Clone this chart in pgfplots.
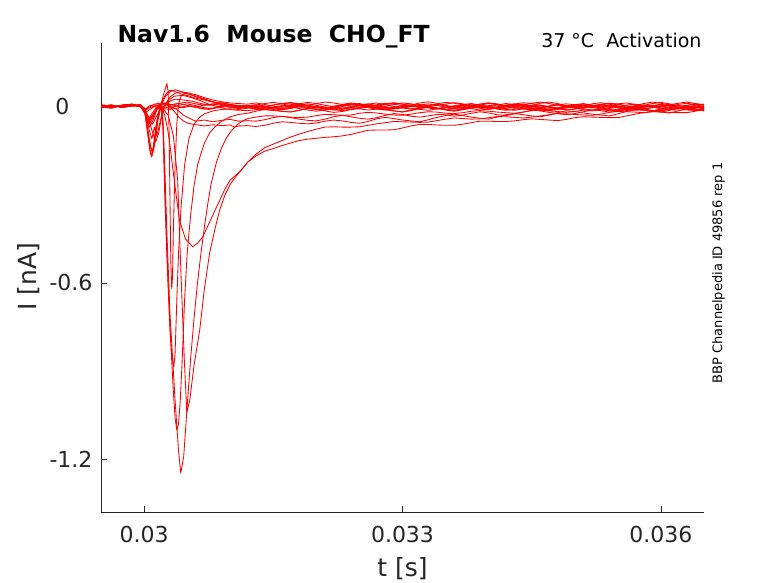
\documentclass[border=0pt]{standalone}
\usepackage{fontspec}
\setmainfont{DejaVu Sans}
\usepackage{pgfplots}
\usepackage{pgfplotstable}
\pgfplotsset{compat=1.18}
\definecolor{axgray}{rgb}{0.15,0.15,0.15}
\tikzset{tr/.style={color=red, line width=0.85bp, line join=round, mark=none}}
\pgfplotstableread{
t b1 b2 b3 b4 b5 h1 h2 h3 h4 h5 pa pb pd pe s1 s2 pc pf
0.0312 0.003 0.001 -0.004 -0.004 -0.002 -0.001 -0.001 0.008 -0.014 0.003 -0.041 -0.023 -0.006 -0.001 -0.065 -0.048 -0.190 -0.190
0.0313 0.006 0.005 -0.008 -0.008 0.002 -0.004 -0.006 0.012 -0.011 -0.005 -0.036 -0.016 0.000 0.003 -0.068 -0.050 -0.162 -0.168
0.0314 0.002 0.010 -0.011 -0.002 -0.003 0.000 -0.010 0.007 -0.006 -0.009 -0.032 -0.010 -0.002 0.000 -0.064 -0.045 -0.140 -0.152
0.0315 -0.004 0.014 -0.006 0.005 -0.010 0.005 -0.014 0.001 -0.002 -0.004 -0.032 -0.013 -0.007 -0.004 -0.057 -0.038 -0.128 -0.143
0.0316 -0.008 0.009 0.001 0.010 -0.016 0.009 -0.008 -0.003 0.003 0.002 -0.034 -0.017 -0.011 -0.008 -0.052 -0.033 -0.116 -0.133
0.0317 -0.003 0.003 0.004 0.014 -0.019 0.012 -0.001 0.002 -0.001 0.006 -0.036 -0.018 -0.007 -0.005 -0.054 -0.038 -0.104 -0.124
0.0318 0.005 -0.001 -0.001 0.008 -0.013 0.007 0.004 0.009 -0.007 0.010 -0.038 -0.013 -0.001 0.000 -0.057 -0.043 -0.094 -0.116
0.0319 0.009 0.004 -0.005 0.002 -0.006 0.002 0.001 0.014 -0.012 0.004 -0.036 -0.007 -0.003 0.003 -0.059 -0.047 -0.085 -0.111
0.0320 0.004 0.010 -0.010 -0.003 -0.002 -0.002 -0.004 0.010 -0.016 -0.003 -0.031 -0.009 -0.009 0.000 -0.056 -0.049 -0.077 -0.108
0.0321 -0.002 0.015 -0.007 -0.007 -0.005 -0.005 -0.007 0.004 -0.011 -0.008 -0.027 -0.015 -0.013 -0.002 -0.050 -0.043 -0.070 -0.105
0.0322 -0.006 0.012 -0.002 -0.001 -0.011 0.001 -0.002 0.000 -0.005 -0.012 -0.028 -0.020 -0.007 -0.006 -0.046 -0.035 -0.069 -0.103
0.0323 -0.010 0.007 0.003 0.006 -0.014 0.007 0.004 0.003 -0.001 -0.006 -0.030 -0.017 0.000 -0.009 -0.049 -0.030 -0.070 -0.100
0.0324 -0.004 0.002 0.007 0.009 -0.009 0.012 0.009 0.008 -0.004 0.000 -0.029 -0.011 0.007 -0.004 -0.054 -0.035 -0.070 -0.095
0.0325 0.003 -0.003 0.002 0.004 -0.003 0.008 0.006 0.006 -0.008 0.005 -0.023 -0.007 0.010 0.003 -0.057 -0.040 -0.069 -0.088
0.0326 0.008 0.000 -0.004 -0.001 0.001 0.003 0.000 0.000 -0.012 0.009 -0.020 -0.001 0.004 0.006 -0.051 -0.043 -0.064 -0.081
0.0327 0.012 0.006 -0.009 -0.005 -0.004 0.001 -0.005 0.004 -0.009 0.003 -0.022 -0.005 -0.002 0.001 -0.042 -0.038 -0.059 -0.080
0.0328 0.006 0.011 -0.012 0.000 -0.010 0.006 -0.009 0.009 -0.004 -0.004 -0.026 -0.011 -0.006 -0.003 -0.037 -0.030 -0.055 -0.080
0.0329 0.000 0.008 -0.008 0.007 -0.015 0.011 -0.006 0.013 -0.001 -0.007 -0.029 -0.015 -0.003 -0.008 -0.041 -0.024 -0.051 -0.079
0.0330 -0.005 0.003 -0.003 0.012 -0.018 0.008 0.000 0.008 -0.004 -0.002 -0.030 -0.019 0.003 -0.005 -0.046 -0.027 -0.052 -0.073
0.0331 -0.009 0.005 0.001 0.009 -0.012 0.002 0.004 0.002 -0.006 0.003 -0.026 -0.014 0.006 0.000 -0.049 -0.033 -0.053 -0.066
0.0332 -0.003 0.012 0.004 0.003 -0.005 -0.004 0.001 -0.002 -0.010 0.007 -0.021 -0.007 0.001 0.005 -0.052 -0.036 -0.054 -0.061
0.0333 0.004 0.016 -0.001 -0.002 -0.001 -0.001 -0.003 0.003 -0.013 0.002 -0.018 -0.003 -0.005 0.009 -0.045 -0.032 -0.053 -0.061
0.0334 0.007 0.011 -0.006 -0.006 -0.006 0.004 -0.006 0.009 -0.008 -0.005 -0.019 -0.006 -0.009 0.004 -0.037 -0.027 -0.048 -0.063
0.0335 0.002 0.004 -0.010 -0.010 -0.012 0.008 -0.004 0.014 -0.001 -0.010 -0.023 -0.010 -0.004 -0.002 -0.031 -0.028 -0.043 -0.064
0.0336 -0.003 -0.002 -0.013 -0.004 -0.016 0.013 0.001 0.011 0.002 -0.007 -0.024 -0.013 0.002 -0.007 -0.026 -0.033 -0.039 -0.064
0.0337 -0.007 -0.005 -0.007 0.003 -0.011 0.009 0.004 0.006 -0.003 -0.001 -0.021 -0.010 0.007 -0.010 -0.031 -0.029 -0.041 -0.060
0.0338 -0.002 0.001 -0.001 0.008 -0.004 0.003 0.000 0.001 -0.007 0.004 -0.016 -0.005 0.010 -0.006 -0.036 -0.023 -0.043 -0.055
0.0339 0.005 0.008 0.004 0.005 0.001 -0.002 -0.006 -0.004 -0.012 0.008 -0.014 -0.002 0.004 -0.001 -0.040 -0.018 -0.042 -0.050
0.0340 0.010 0.012 0.000 0.000 -0.003 -0.006 -0.010 -0.001 -0.009 0.012 -0.016 -0.005 -0.003 0.003 -0.043 -0.022 -0.038 -0.050
0.0341 0.007 0.009 -0.005 -0.003 -0.009 -0.001 -0.005 0.005 -0.004 0.006 -0.019 -0.006 -0.007 0.006 -0.036 -0.028 -0.034 -0.051
0.0342 0.001 0.003 -0.007 0.002 -0.013 0.005 0.003 0.010 0.001 -0.001 -0.021 -0.010 -0.002 0.001 -0.028 -0.031 -0.035 -0.051
0.0343 -0.004 0.000 -0.002 0.008 -0.010 0.009 0.007 0.007 0.005 -0.006 -0.023 -0.013 0.004 -0.004 -0.024 -0.025 -0.037 -0.049
0.0344 -0.008 0.005 0.003 0.013 -0.005 0.006 0.002 0.002 0.000 -0.003 -0.019 -0.008 0.008 -0.008 -0.028 -0.019 -0.039 -0.045
0.0345 -0.012 0.011 0.000 0.010 -0.007 0.002 -0.004 0.004 -0.006 0.002 -0.014 -0.001 0.003 -0.011 -0.032 -0.013 -0.036 -0.042
0.0346 -0.006 0.015 -0.006 0.004 -0.013 -0.002 -0.008 0.011 -0.011 0.005 -0.012 0.002 -0.004 -0.005 -0.035 -0.015 -0.032 -0.044
0.0347 0.001 0.010 -0.012 -0.001 -0.009 0.001 -0.012 0.015 -0.014 0.000 -0.015 -0.003 -0.009 0.001 -0.029 -0.020 -0.028 -0.046
0.0348 0.006 0.004 -0.009 -0.005 -0.004 0.006 -0.006 0.010 -0.010 -0.006 -0.017 -0.007 -0.005 0.006 -0.021 -0.024 -0.024 -0.048
0.0349 0.003 -0.001 -0.004 -0.002 0.000 0.009 0.001 0.003 -0.005 -0.011 -0.020 -0.012 0.001 0.002 -0.015 -0.028 -0.025 -0.044
0.0350 -0.002 -0.004 0.000 0.004 -0.005 0.006 0.006 -0.003 -0.001 -0.008 -0.017 -0.009 0.005 -0.003 -0.017 -0.024 -0.027 -0.038
0.0351 -0.005 0.002 0.005 0.008 -0.011 0.004 0.010 -0.006 0.002 -0.002 -0.012 -0.004 0.002 -0.005 -0.022 -0.018 -0.029 -0.035
0.0352 0.000 0.009 0.001 0.005 -0.015 0.000 0.004 0.000 -0.003 0.003 -0.009 0.002 -0.003 0.000 -0.026 -0.012 -0.030 -0.036
0.0353 0.006 0.013 -0.005 0.001 -0.010 -0.003 -0.002 0.007 -0.008 0.007 -0.011 0.006 -0.001 0.005 -0.029 -0.014 -0.026 -0.037
0.0354 0.011 0.008 -0.010 -0.002 -0.004 0.002 -0.007 0.011 -0.012 0.004 -0.014 0.001 0.005 0.002 -0.032 -0.019 -0.020 -0.038
0.0355 0.008 0.002 -0.014 0.000 0.001 0.009 -0.011 0.008 -0.015 -0.002 -0.016 -0.005 0.001 -0.004 -0.025 -0.016 -0.017 -0.038
0.0356 0.002 -0.002 -0.009 0.005 -0.002 0.012 -0.005 0.002 -0.009 -0.006 -0.014 -0.010 -0.004 -0.010 -0.017 -0.008 -0.018 -0.032
0.0357 -0.003 0.003 -0.003 0.008 -0.007 0.007 0.002 -0.001 -0.003 -0.003 -0.010 -0.013 -0.008 -0.007 -0.011 -0.004 -0.019 -0.026
0.0358 -0.007 0.010 0.001 0.004 -0.012 0.003 0.005 0.004 0.002 0.001 -0.011 -0.009 -0.003 -0.002 -0.013 -0.008 -0.021 -0.021
0.0359 -0.004 0.015 -0.002 -0.002 -0.014 -0.002 0.000 0.010 -0.002 0.004 -0.015 -0.004 0.003 0.002 -0.017 -0.014 -0.018 -0.017
0.0360 0.002 0.011 -0.006 -0.006 -0.009 0.001 -0.005 0.014 -0.007 0.002 -0.013 0.000 0.007 0.007 -0.019 -0.019 -0.014 -0.018
0.0361 0.006 0.005 -0.010 -0.001 -0.008 0.006 -0.009 0.009 -0.009 -0.003 -0.009 0.003 0.002 0.003 -0.013 -0.022 -0.011 -0.020
0.0362 0.003 0.001 -0.007 0.007 -0.003 0.011 -0.004 0.003 -0.004 -0.006 -0.006 -0.002 -0.004 -0.003 -0.006 -0.015 -0.012 -0.021
0.0363 -0.001 0.004 -0.002 0.011 -0.006 0.015 0.003 -0.002 0.001 -0.002 -0.009 -0.007 -0.009 -0.008 0.000 -0.007 -0.012 -0.021
0.0364 -0.004 0.009 0.001 0.006 -0.011 0.010 0.008 -0.005 -0.002 0.004 -0.013 -0.011 -0.006 -0.012 -0.002 -0.003 -0.013 -0.016
0.0365 -0.002 0.007 -0.002 0.000 -0.009 0.004 0.005 0.001 -0.008 0.008 -0.014 -0.014 -0.001 -0.007 -0.007 -0.005 -0.014 -0.010
}\tail
\begin{document}
\begin{tikzpicture}[x=1bp,y=1bp]
\begin{axis}[
  at={(101bp,71bp)}, anchor=south west,
  scale only axis, width=603bp, height=469bp,
  xmin=0.0295, xmax=0.0365, ymin=-1.379, ymax=0.216,
  axis x line*=bottom, axis y line*=left,
  axis line style={color=axgray, line width=0.6bp},
  xtick={0.03,0.033,0.036}, xticklabels={0.03,0.033,0.036},
  ytick={-1.2,-0.6,0}, yticklabels={-1.2,-0.6,{0\rule{23bp}{0pt}}},
  scaled x ticks=false, scaled y ticks=false,
  tick align=inside, major tick length=6bp,
  tick style={color=axgray, line width=0.6bp},
  ticklabel style={font=\fontsize{22bp}{26bp}\selectfont, text=axgray},
  xticklabel style={yshift=-11bp},
  yticklabel style={xshift=-5bp},
  clip=true,
]
% baseline traces
\addplot[tr] coordinates {(0.0295,0.003)(0.02962,-0.002)(0.02974,0.004)(0.02986,0.008)(0.02996,0.002)(0.03002,-0.008)(0.03006,0.002)(0.03012,0.006)(0.0302,0.000)(0.0303,-0.005)(0.0304,0.004)(0.0305,0.009)(0.0306,0.003)(0.0307,-0.004)(0.0308,-0.007)(0.0309,0.001)(0.031,0.006)(0.0311,0.002)(0.0312,0.003)};
\addplot[tr] table[x=t,y=b1]{\tail};
\addplot[tr] coordinates {(0.0295,-0.004)(0.02962,0.002)(0.02974,-0.001)(0.02986,0.005)(0.02996,0.000)(0.03002,-0.012)(0.03006,-0.003)(0.03012,0.008)(0.0302,0.012)(0.0303,0.006)(0.0304,0.010)(0.0305,0.015)(0.0306,0.009)(0.0307,0.004)(0.0308,0.008)(0.0309,0.013)(0.031,0.007)(0.0311,0.003)(0.0312,0.001)};
\addplot[tr] table[x=t,y=b2]{\tail};
\addplot[tr] coordinates {(0.0295,0.001)(0.02962,0.005)(0.02974,-0.003)(0.02986,0.002)(0.02996,0.006)(0.03002,-0.02)(0.03007,-0.01)(0.03012,0.000)(0.0302,-0.006)(0.0303,-0.010)(0.0304,-0.004)(0.0305,0.002)(0.0306,-0.003)(0.0307,-0.009)(0.0308,-0.005)(0.0309,0.001)(0.031,-0.002)(0.0311,-0.007)(0.0312,-0.004)};
\addplot[tr] table[x=t,y=b3]{\tail};
\addplot[tr] coordinates {(0.0295,-0.002)(0.02962,-0.005)(0.02974,0.003)(0.02986,0.006)(0.02996,-0.001)(0.03002,-0.025)(0.03006,-0.04)(0.0301,-0.02)(0.03016,0.004)(0.03024,0.012)(0.03032,0.006)(0.0304,0.010)(0.0305,0.004)(0.0306,-0.002)(0.0307,0.005)(0.0308,0.009)(0.0309,0.003)(0.031,-0.003)(0.0311,0.001)(0.0312,-0.004)};
\addplot[tr] table[x=t,y=b4]{\tail};
\addplot[tr] coordinates {(0.0295,0.005)(0.02968,0.000)(0.02978,0.006)(0.02988,0.002)(0.02996,0.004)(0.03002,-0.01)(0.03008,-0.003)(0.03015,0.005)(0.03025,0.010)(0.03035,0.004)(0.03045,-0.004)(0.03055,0.002)(0.03065,-0.005)(0.03075,-0.010)(0.03085,-0.004)(0.03095,0.001)(0.03105,-0.004)(0.0312,-0.002)};
\addplot[tr] table[x=t,y=b5]{\tail};
% traces with dips and outward bumps
\addplot[tr] coordinates {(0.0295,0.003)(0.02962,-0.002)(0.02974,0.004)(0.02986,0.008)(0.02996,0.002)(0.03001,-0.02)(0.03004,-0.08)(0.03007,-0.15)(0.030089,-0.17)(0.03011,-0.13)(0.03014,-0.06)(0.03018,-0.01)(0.03022,0.025)(0.03026,0.045)(0.0303,0.055)(0.03035,0.052)(0.0304,0.046)(0.03046,0.040)(0.03052,0.036)(0.0306,0.028)(0.0307,0.022)(0.0308,0.015)(0.0309,0.012)(0.031,0.006)(0.0311,0.002)(0.0312,-0.001)};
\addplot[tr] table[x=t,y=h1]{\tail};
\addplot[tr] coordinates {(0.0295,-0.004)(0.02962,0.002)(0.02974,-0.001)(0.02986,0.005)(0.02996,0.000)(0.03001,-0.02)(0.03005,-0.09)(0.03008,-0.145)(0.0301,-0.16)(0.03013,-0.12)(0.03016,-0.05)(0.0302,0.005)(0.03025,0.035)(0.0303,0.05)(0.03036,0.057)(0.03042,0.052)(0.0305,0.044)(0.0306,0.036)(0.0307,0.026)(0.0308,0.016)(0.0309,0.008)(0.031,0.004)(0.0311,0.000)(0.0312,-0.001)};
\addplot[tr] table[x=t,y=h2]{\tail};
\addplot[tr] coordinates {(0.0295,0.001)(0.02962,0.005)(0.02974,-0.003)(0.02986,0.002)(0.02996,0.006)(0.03001,-0.01)(0.03006,-0.05)(0.0301,-0.09)(0.030136,-0.12)(0.03017,-0.09)(0.0302,-0.04)(0.03025,0.01)(0.0303,0.032)(0.03036,0.045)(0.03042,0.050)(0.0305,0.047)(0.0306,0.04)(0.0307,0.03)(0.0308,0.022)(0.0309,0.016)(0.031,0.012)(0.0311,0.01)(0.0312,0.008)};
\addplot[tr] table[x=t,y=h3]{\tail};
\addplot[tr] coordinates {(0.0295,-0.002)(0.02962,-0.005)(0.02974,0.003)(0.02986,0.006)(0.02996,-0.001)(0.03001,-0.015)(0.03005,-0.07)(0.03009,-0.11)(0.03012,-0.07)(0.030147,-0.10)(0.03018,-0.06)(0.03022,-0.01)(0.03028,0.02)(0.03035,0.035)(0.03045,0.038)(0.03055,0.03)(0.03065,0.02)(0.03075,0.008)(0.03085,0.000)(0.03095,-0.008)(0.03105,-0.012)(0.0312,-0.014)};
\addplot[tr] table[x=t,y=h4]{\tail};
\addplot[tr] coordinates {(0.0295,0.005)(0.02968,0.000)(0.02978,0.006)(0.02988,0.002)(0.02996,0.004)(0.03002,-0.02)(0.03006,-0.05)(0.0301,-0.06)(0.03014,-0.035)(0.0302,-0.005)(0.03028,0.015)(0.03036,0.025)(0.03046,0.022)(0.03056,0.018)(0.03066,0.01)(0.03076,0.004)(0.03086,0.008)(0.03096,0.006)(0.03106,0.0)(0.0312,0.003)};
\addplot[tr] table[x=t,y=h5]{\tail};
% large inward peaks
\addplot[tr] coordinates {(0.0295,0.003)(0.02962,-0.002)(0.02974,0.004)(0.02986,0.008)(0.02996,0.002)(0.03001,-0.02)(0.03004,-0.09)(0.03007,-0.155)(0.030089,-0.172)(0.03011,-0.14)(0.03015,-0.06)(0.03019,0.0)(0.03023,0.045)(0.030265,0.078)(0.03028,0.05)(0.03029,-0.08)(0.0303,-0.3)(0.03031,-0.52)(0.030321,-0.62)(0.03033,-0.58)(0.03034,-0.42)(0.03036,-0.2)(0.03038,-0.06)(0.0304,0.01)(0.03043,0.035)(0.03047,0.045)(0.03052,0.042)(0.0306,0.033)(0.0307,0.024)(0.0308,0.016)(0.0309,0.008)(0.031,0.002)(0.0311,-0.002)(0.0312,-0.001)};
\addplot[tr] table[x=t,y=pe]{\tail};
\addplot[tr] coordinates {(0.0295,-0.004)(0.02962,0.002)(0.02974,-0.001)(0.02986,0.005)(0.02996,0.000)(0.03001,-0.02)(0.03005,-0.1)(0.03008,-0.14)(0.0301,-0.15)(0.03013,-0.1)(0.03016,-0.03)(0.03019,0.005)(0.0302,0.0)(0.03022,-0.08)(0.03024,-0.3)(0.03027,-0.55)(0.0303,-0.75)(0.03032,-0.84)(0.030345,-0.886)(0.03036,-0.84)(0.03038,-0.66)(0.0304,-0.5)(0.03043,-0.34)(0.03047,-0.2)(0.03052,-0.11)(0.03058,-0.06)(0.03065,-0.035)(0.0307,-0.025)(0.0308,-0.015)(0.0309,-0.01)(0.031,-0.008)(0.0311,-0.01)(0.0312,-0.006)};
\addplot[tr] table[x=t,y=pd]{\tail};
\addplot[tr] coordinates {(0.0295,0.001)(0.02962,0.005)(0.02974,-0.003)(0.02986,0.002)(0.02996,0.006)(0.03002,-0.03)(0.03006,-0.07)(0.0301,-0.05)(0.03015,-0.01)(0.03019,0.005)(0.0302,0.0)(0.03022,-0.06)(0.03024,-0.25)(0.03026,-0.45)(0.0303,-0.75)(0.03034,-0.97)(0.03036,-1.06)(0.03038,-1.10)(0.0304,-1.08)(0.03042,-1.0)(0.03044,-0.88)(0.03047,-0.66)(0.0305,-0.5)(0.03054,-0.37)(0.03058,-0.27)(0.03062,-0.2)(0.03066,-0.16)(0.0307,-0.125)(0.03076,-0.09)(0.03082,-0.07)(0.0309,-0.05)(0.031,-0.035)(0.0311,-0.027)(0.0312,-0.023)};
\addplot[tr] table[x=t,y=pb]{\tail};
\addplot[tr] coordinates {(0.0295,-0.002)(0.02962,-0.005)(0.02974,0.003)(0.02986,0.006)(0.02996,-0.001)(0.03002,-0.03)(0.03006,-0.06)(0.0301,-0.04)(0.03015,-0.005)(0.03019,0.004)(0.0302,0.0)(0.03022,-0.05)(0.03024,-0.2)(0.030264,-0.42)(0.0303,-0.7)(0.03036,-1.0)(0.0304,-1.17)(0.030426,-1.247)(0.03046,-1.19)(0.0305,-1.02)(0.03054,-0.86)(0.03058,-0.72)(0.03062,-0.6)(0.03066,-0.5)(0.0307,-0.41)(0.03074,-0.33)(0.03078,-0.26)(0.03084,-0.19)(0.0309,-0.14)(0.03096,-0.105)(0.03102,-0.08)(0.03108,-0.062)(0.03114,-0.05)(0.0312,-0.041)};
\addplot[tr] table[x=t,y=pa]{\tail};
\addplot[tr] coordinates {(0.0295,0.005)(0.02968,0.000)(0.02978,0.006)(0.02988,0.002)(0.02996,0.004)(0.03002,-0.02)(0.03006,-0.05)(0.0301,-0.035)(0.03015,-0.01)(0.0302,0.0)(0.03028,-0.03)(0.03034,-0.1)(0.03039,-0.25)(0.030426,-0.55)(0.030467,-0.86)(0.030496,-1.04)(0.03053,-1.0)(0.03058,-0.88)(0.030646,-0.76)(0.0307,-0.62)(0.03076,-0.5)(0.03082,-0.42)(0.03088,-0.35)(0.03094,-0.3)(0.031,-0.265)(0.03106,-0.24)(0.03111,-0.222)(0.03116,-0.205)(0.0312,-0.19)};
\addplot[tr] table[x=t,y=pc]{\tail};
\addplot[tr] coordinates {(0.0295,-0.004)(0.02962,0.002)(0.02974,-0.001)(0.02986,0.005)(0.02996,0.000)(0.03002,-0.015)(0.03006,-0.04)(0.0301,-0.03)(0.03015,-0.008)(0.0302,0.002)(0.03024,-0.03)(0.030275,-0.08)(0.0303,-0.13)(0.03035,-0.25)(0.03041,-0.386)(0.03048,-0.45)(0.030565,-0.477)(0.03062,-0.465)(0.03068,-0.444)(0.03075,-0.40)(0.03082,-0.355)(0.03088,-0.318)(0.03094,-0.28)(0.031,-0.25)(0.03106,-0.235)(0.03111,-0.222)(0.03116,-0.205)(0.0312,-0.19)};
\addplot[tr] table[x=t,y=pf]{\tail};
% small sustained inward currents
\addplot[tr] coordinates {(0.0295,-0.004)(0.02962,0.002)(0.02974,-0.001)(0.02986,0.005)(0.02996,0.000)(0.03002,-0.02)(0.03006,-0.04)(0.0301,-0.03)(0.03016,0.0)(0.03022,0.01)(0.0303,0.0)(0.03036,-0.02)(0.0304,-0.035)(0.03046,-0.05)(0.03052,-0.058)(0.0306,-0.062)(0.0307,-0.066)(0.0308,-0.062)(0.0309,-0.065)(0.031,-0.063)(0.03105,-0.07)(0.0311,-0.066)(0.0312,-0.065)};
\addplot[tr] table[x=t,y=s1]{\tail};
\addplot[tr] coordinates {(0.0295,0.001)(0.02962,0.005)(0.02974,-0.003)(0.02986,0.002)(0.02996,0.006)(0.03002,-0.02)(0.03006,-0.045)(0.0301,-0.03)(0.03016,-0.005)(0.03022,0.008)(0.0303,0.004)(0.03038,-0.01)(0.03046,-0.03)(0.03054,-0.042)(0.0306,-0.05)(0.0307,-0.046)(0.0308,-0.052)(0.0309,-0.047)(0.031,-0.044)(0.0311,-0.05)(0.0312,-0.048)};
\addplot[tr] table[x=t,y=s2]{\tail};
\end{axis}
\node[anchor=base west, font=\fontsize{23.5bp}{27bp}\selectfont\bfseries] at (114,540.7) {Nav1.6\ \ Mouse\ \ CHO\_FT};
\node[anchor=base east, font=\fontsize{19bp}{23bp}\selectfont] at (705,535.7) {37 °C\ \ Activation};
\node[rotate=90, anchor=base, font=\fontsize{13bp}{15bp}\selectfont] at (722,310) {BBP Channelpedia ID 49856 rep 1};
\node[anchor=base, font=\fontsize{25bp}{30bp}\selectfont, text=axgray] at (402.6,6) {t [s]};
\node[rotate=90, anchor=base, font=\fontsize{25bp}{30bp}\selectfont, text=axgray] at (36,306.5) {I [nA]};
\pgfresetboundingbox
\path[use as bounding box] (0,0) rectangle (778,583);
\end{tikzpicture}
\end{document}
